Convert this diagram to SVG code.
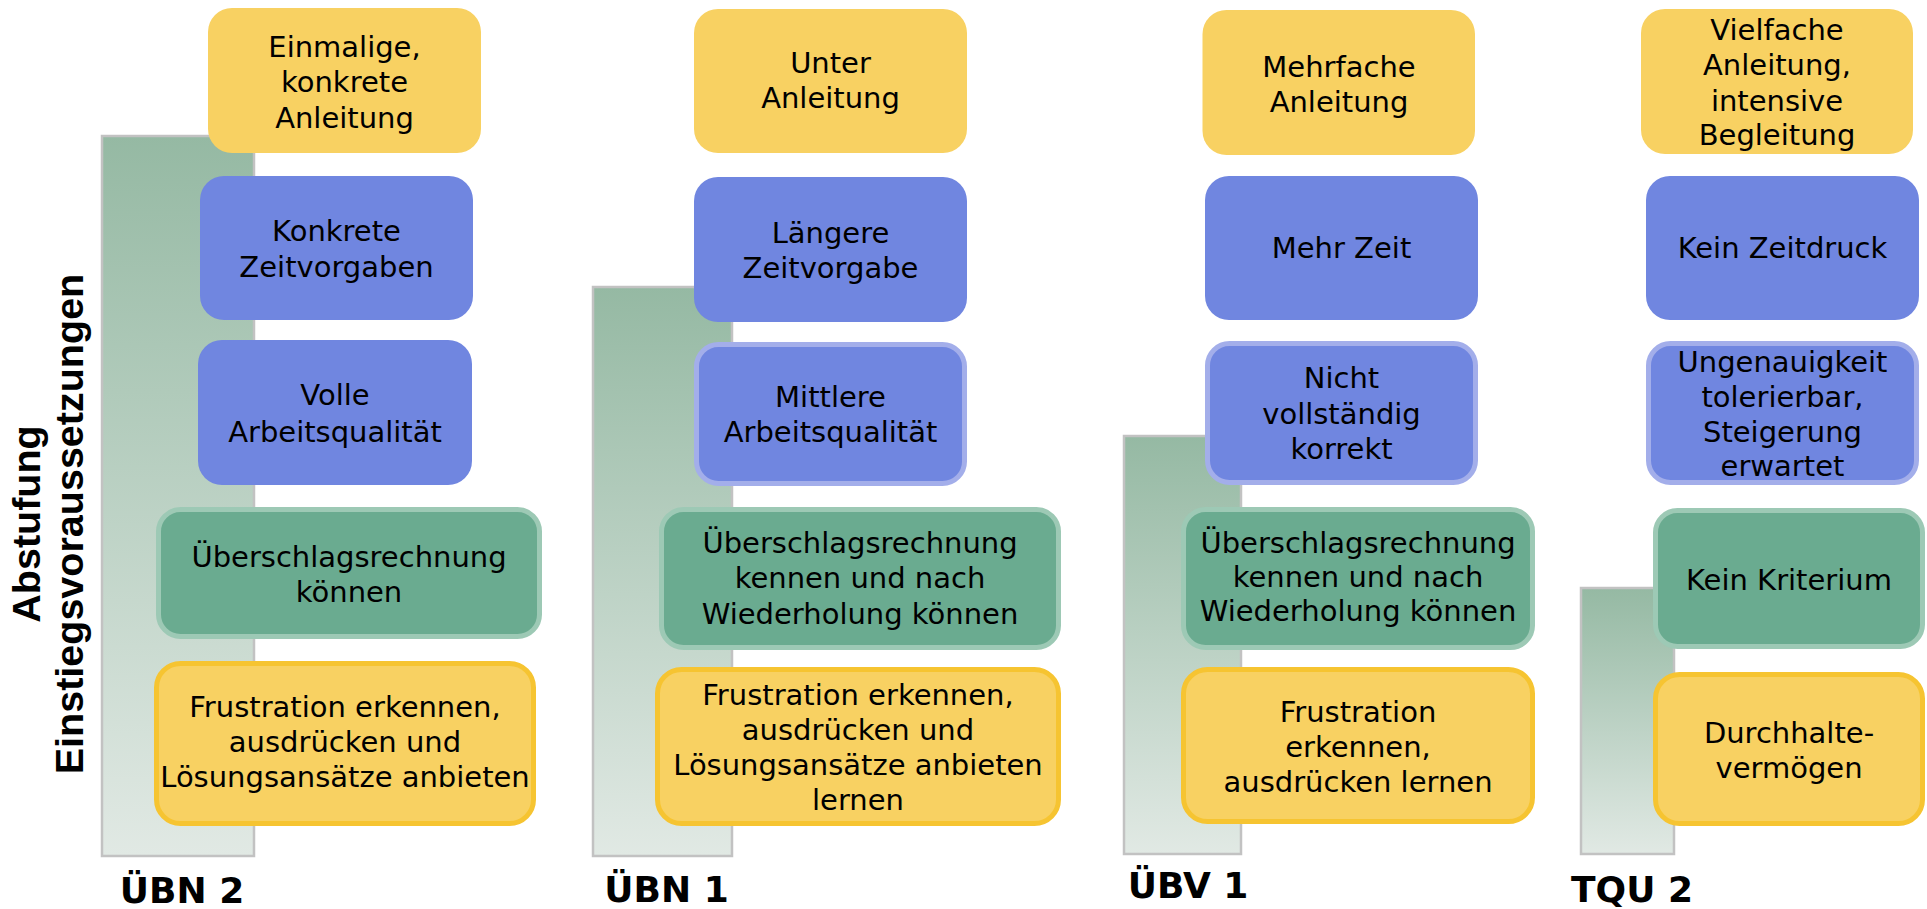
<svg xmlns="http://www.w3.org/2000/svg" width="1927" height="909" viewBox="0 0 1927 909">
<defs>
<linearGradient id="barGrad" x1="0" y1="0" x2="0" y2="1">
<stop offset="0" stop-color="#95b9a3"/>
<stop offset="1" stop-color="#e1e9e4"/>
</linearGradient>
<style>
.bar{fill:url(#barGrad);stroke:#c2c2c2;stroke-width:2.5}
.y{fill:#f8d162}
.yb{fill:#f8d162;stroke:#f6c431;stroke-width:5}
.b{fill:#7086e0}
.bb{fill:#7086e0;stroke:#a3aeea;stroke-width:5}
.gb{fill:#6aab90;stroke:#9dc9b5;stroke-width:5}
.t{font-family:"DejaVu Sans","Verdana",sans-serif;font-size:29px;fill:#000;text-anchor:middle}
.lbl{font-family:"DejaVu Sans","Verdana",sans-serif;font-size:36px;font-weight:bold;fill:#000;text-anchor:middle}
.title{font-family:"Liberation Sans","Arial",sans-serif;font-size:39.5px;font-weight:bold;fill:#000;text-anchor:middle}
</style>
</defs>
<rect width="1927" height="909" fill="#fff"/>

<g id="title">
<text class="title" transform="translate(40,524) rotate(-90)">Abstufung</text>
<text class="title" transform="translate(83,524) rotate(-90)">Einstiegsvoraussetzungen</text>
</g>

<g id="bars">
<rect id="bar-uebn2" class="bar" x="102" y="136" width="152" height="720"/>
<rect id="bar-uebn1" class="bar" x="593" y="287" width="139" height="569"/>
<rect id="bar-uebv1" class="bar" x="1124" y="436" width="117" height="418"/>
<rect id="bar-tqu2" class="bar" x="1581" y="588" width="93" height="266"/>
</g>

<g id="connectors"></g>

<!-- Column ÜBN 2 -->
<g id="c1-anleitung">
<rect class="y" x="208" y="8" width="273" height="145" rx="24"/>
<text class="t" x="344.5"><tspan x="344.5" y="57">Einmalige,</tspan><tspan x="344.5" y="92">konkrete</tspan><tspan x="344.5" y="128">Anleitung</tspan></text>
</g>
<g id="c1-zeit">
<rect class="b" x="200" y="176" width="273" height="144" rx="24"/>
<text class="t"><tspan x="336.5" y="241">Konkrete</tspan><tspan x="336.5" y="277">Zeitvorgaben</tspan></text>
</g>
<g id="c1-qualitaet">
<rect class="b" x="198" y="340" width="274" height="145" rx="24"/>
<text class="t"><tspan x="335" y="405">Volle</tspan><tspan x="335" y="442">Arbeitsqualität</tspan></text>
</g>
<g id="c1-rechnung">
<rect class="gb" x="158.5" y="509.5" width="381" height="127" rx="22"/>
<text class="t"><tspan x="349" y="567">Überschlagsrechnung</tspan><tspan x="349" y="602">können</tspan></text>
</g>
<g id="c1-frustration">
<rect class="yb" x="156.5" y="663.5" width="377" height="160" rx="24"/>
<text class="t"><tspan x="345" y="717">Frustration erkennen,</tspan><tspan x="345" y="752">ausdrücken und</tspan><tspan x="345" y="787">Lösungsansätze anbieten</tspan></text>
</g>
<text id="lbl-uebn2" class="lbl" x="182" y="903">ÜBN 2</text>

<!-- Column ÜBN 1 -->
<g id="c2-anleitung">
<rect class="y" x="694" y="9" width="273" height="144" rx="24"/>
<text class="t"><tspan x="830.5" y="73">Unter</tspan><tspan x="830.5" y="108">Anleitung</tspan></text>
</g>
<g id="c2-zeit">
<rect class="b" x="694" y="177" width="273" height="145" rx="24"/>
<text class="t"><tspan x="830.5" y="243">Längere</tspan><tspan x="830.5" y="278">Zeitvorgabe</tspan></text>
</g>
<g id="c2-qualitaet">
<rect class="bb" x="696.5" y="344.5" width="268" height="139" rx="22"/>
<text class="t"><tspan x="830.5" y="407">Mittlere</tspan><tspan x="830.5" y="442">Arbeitsqualität</tspan></text>
</g>
<g id="c2-rechnung">
<rect class="gb" x="661.5" y="509.5" width="397" height="138" rx="22"/>
<text class="t"><tspan x="860" y="553">Überschlagsrechnung</tspan><tspan x="860" y="588">kennen und nach</tspan><tspan x="860" y="624">Wiederholung können</tspan></text>
</g>
<g id="c2-frustration">
<rect class="yb" x="657.5" y="669.5" width="401" height="154" rx="24"/>
<text class="t"><tspan x="858" y="705">Frustration erkennen,</tspan><tspan x="858" y="740">ausdrücken und</tspan><tspan x="858" y="775">Lösungsansätze anbieten</tspan><tspan x="858" y="810">lernen</tspan></text>
</g>
<text id="lbl-uebn1" class="lbl" x="666.5" y="902">ÜBN 1</text>

<!-- Column ÜBV 1 -->
<g id="c3-anleitung">
<rect class="y" x="1202.5" y="10" width="272.5" height="145" rx="24"/>
<text class="t"><tspan x="1339" y="77">Mehrfache</tspan><tspan x="1339" y="112">Anleitung</tspan></text>
</g>
<g id="c3-zeit">
<rect class="b" x="1205" y="176" width="273" height="144" rx="24"/>
<text class="t"><tspan x="1341.5" y="258">Mehr Zeit</tspan></text>
</g>
<g id="c3-qualitaet">
<rect class="bb" x="1207.5" y="343.5" width="268" height="139" rx="22"/>
<text class="t"><tspan x="1341.5" y="388">Nicht</tspan><tspan x="1341.5" y="424">vollständig</tspan><tspan x="1341.5" y="459">korrekt</tspan></text>
</g>
<g id="c3-rechnung">
<rect class="gb" x="1183.5" y="509.5" width="349" height="138" rx="22"/>
<text class="t"><tspan x="1358" y="553">Überschlagsrechnung</tspan><tspan x="1358" y="587">kennen und nach</tspan><tspan x="1358" y="621">Wiederholung können</tspan></text>
</g>
<g id="c3-frustration">
<rect class="yb" x="1183.5" y="669.5" width="349" height="152" rx="24"/>
<text class="t"><tspan x="1358" y="722">Frustration</tspan><tspan x="1358" y="757">erkennen,</tspan><tspan x="1358" y="792">ausdrücken lernen</tspan></text>
</g>
<text id="lbl-uebv1" class="lbl" x="1188" y="898">ÜBV 1</text>

<!-- Column TQU 2 -->
<g id="c4-anleitung">
<rect class="y" x="1641" y="9" width="272" height="145" rx="24"/>
<text class="t"><tspan x="1777" y="40">Vielfache</tspan><tspan x="1777" y="75">Anleitung,</tspan><tspan x="1777" y="111">intensive</tspan><tspan x="1777" y="145">Begleitung</tspan></text>
</g>
<g id="c4-zeit">
<rect class="b" x="1646" y="176" width="273" height="144" rx="24"/>
<text class="t"><tspan x="1782.5" y="258">Kein Zeitdruck</tspan></text>
</g>
<g id="c4-qualitaet">
<rect class="bb" x="1648.5" y="343.5" width="268" height="139" rx="22"/>
<text class="t"><tspan x="1782.5" y="372">Ungenauigkeit</tspan><tspan x="1782.5" y="407">tolerierbar,</tspan><tspan x="1782.5" y="442">Steigerung</tspan><tspan x="1782.5" y="476">erwartet</tspan></text>
</g>
<g id="c4-kriterium">
<rect class="gb" x="1655.5" y="510.5" width="267" height="136" rx="22"/>
<text class="t"><tspan x="1789" y="590">Kein Kriterium</tspan></text>
</g>
<g id="c4-durchhalte">
<rect class="yb" x="1655.5" y="674.5" width="267" height="149" rx="24"/>
<text class="t"><tspan x="1789" y="743">Durchhalte-</tspan><tspan x="1789" y="778">vermögen</tspan></text>
</g>
<text id="lbl-tqu2" class="lbl" x="1632" y="902">TQU 2</text>
</svg>
